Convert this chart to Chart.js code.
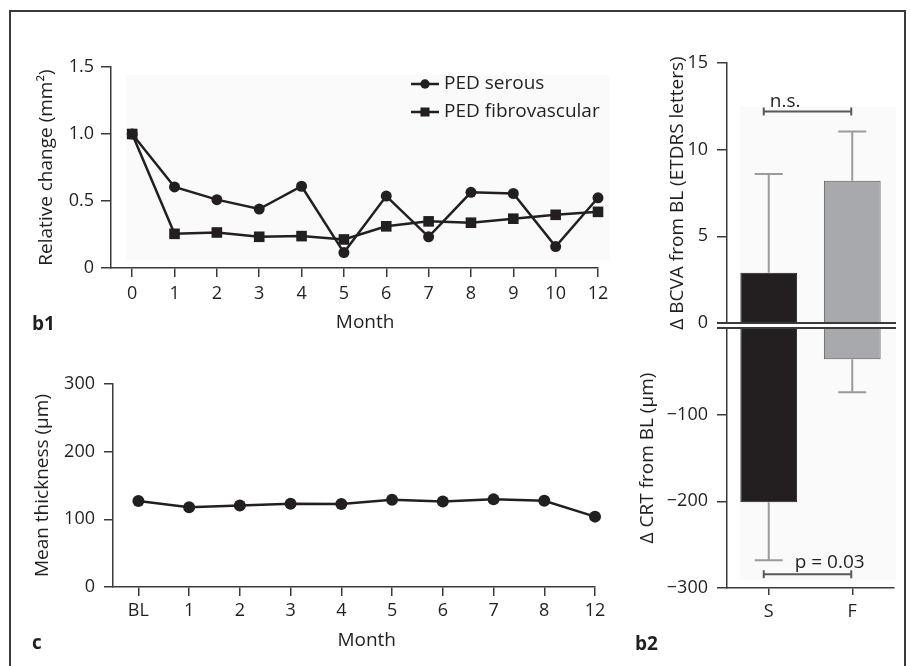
<!DOCTYPE html>
<html lang="en">
<head>
    <meta charset="UTF-8">
    <title>PED area, thickness and BCVA / CRT change</title>
    <script src="https://cdn.jsdelivr.net/npm/chart.js@4"></script>
    <style>
        body { margin: 0; background: #fff; font-family: "Open Sans", sans-serif; color: #231f20; }
        #page { position: relative; width: 911px; height: 666px; overflow: hidden; }
        #frame { position: absolute; left: 9px; top: 10px; width: 893px; height: 700px; border: 2px solid #3a3a3a; }
        canvas { position: absolute; }
        .tag { position: absolute; font-weight: bold; font-size: 19px; line-height: 22px; }
    </style>
</head>
<body>
<div id="page">
    <div id="frame"></div>
    <canvas id="b1" width="583" height="287" style="left:35px;top:47px"></canvas>
    <canvas id="c" width="584" height="291" style="left:31px;top:362px"></canvas>
    <canvas id="b2top" width="234" height="302" style="left:666px;top:43px"></canvas>
    <canvas id="b2bottom" width="264" height="322" style="left:636px;top:306px"></canvas>
    <div class="tag" style="left:32px;top:312px">b1</div>
    <div class="tag" style="left:32px;top:631px">c</div>
    <div class="tag" style="left:635px;top:632px">b2</div>
</div>

<script>
    // b1: relative change of PED area
    const monthsB1 = ['0', '1', '2', '3', '4', '5', '6', '7', '8', '9', '10', '12'];
    const pedSerous = [1.0, 0.605, 0.51, 0.44, 0.61, 0.115, 0.537, 0.233, 0.565, 0.556, 0.16, 0.524];
    const pedFibro = [1.0, 0.255, 0.265, 0.233, 0.238, 0.213, 0.311, 0.348, 0.338, 0.368, 0.397, 0.419];

    // c: mean thickness
    const monthsC = ['BL', '1', '2', '3', '4', '5', '6', '7', '8', '12'];
    const meanThickness = [127, 118, 120.5, 123, 122.5, 129, 126.5, 129.5, 127.5, 104];

    // b2: change from baseline per group
    const groups = ['S', 'F'];
    const bcvaMean = [2.9, 8.2];
    const bcvaUpper = [8.6, 11.05];
    const crtMean = [-201, -36];
    const crtLower = [-268, -74];
    const nsAt = 12.2;
    const pAt = -284;

    const ink = '#231f20';
    const axisCol = '#3a3a3a';
    Chart.defaults.font.family = '"Open Sans", sans-serif';
    Chart.defaults.color = ink;

    // very light panel behind the data, given in data units
    const shade = {
        id: 'shade',
        beforeDraw(chart, args, opts) {
            if (!opts.box) return;
            const { x, y } = chart.scales;
            const [x0, x1, y0, y1] = opts.box;
            const l = x.getPixelForValue(x0), r = x.getPixelForValue(x1);
            const t = y.getPixelForValue(y1), b = y.getPixelForValue(y0);
            chart.ctx.save();
            chart.ctx.fillStyle = '#fafafa';
            chart.ctx.fillRect(l, t, r - l, b - t);
            chart.ctx.restore();
        }
    };

    // "Month" centred under the first..last tick
    const monthTitle = {
        id: 'monthTitle',
        afterDraw(chart, args, opts) {
            if (!opts.text) return;
            const x = chart.scales.x;
            const n = x.ticks.length;
            const cx = (x.getPixelForValue(x.ticks[0].value) + x.getPixelForValue(x.ticks[n - 1].value)) / 2;
            const ctx = chart.ctx;
            ctx.save();
            ctx.fillStyle = ink;
            ctx.font = '19px "Open Sans", sans-serif';
            ctx.textAlign = 'center';
            ctx.textBaseline = 'middle';
            ctx.fillText(opts.text, cx, chart.chartArea.bottom + opts.dy);
            ctx.restore();
        }
    };

    // legend inside the plot (b1)
    const insideLegend = {
        id: 'insideLegend',
        afterDatasetsDraw(chart, args, opts) {
            if (!opts.show) return;
            const ctx = chart.ctx;
            const x0 = chart.chartArea.right - opts.fromRight;
            chart.data.datasets.forEach((ds, i) => {
                const y = chart.chartArea.top + opts.top + i * opts.gap;
                ctx.save();
                ctx.strokeStyle = ds.borderColor;
                ctx.lineWidth = ds.borderWidth;
                ctx.beginPath();
                ctx.moveTo(x0, y);
                ctx.lineTo(x0 + 28, y);
                ctx.stroke();
                ctx.fillStyle = ds.pointBackgroundColor;
                Chart.helpers.drawPoint(ctx, { pointStyle: ds.pointStyle, radius: ds.pointRadius * 0.85, borderWidth: 0, rotation: 0 }, x0 + 14, y);
                ctx.fillStyle = ink;
                ctx.font = '19px "Open Sans", sans-serif';
                ctx.textBaseline = 'middle';
                ctx.fillText(ds.label, x0 + 33, y);
                ctx.restore();
            });
        }
    };

    // whiskers from the bar end to the given value
    const whiskers = {
        id: 'whiskers',
        afterDatasetsDraw(chart, args, opts) {
            if (!opts.ends) return;
            const { x, y } = chart.scales;
            const vals = chart.data.datasets[0].data;
            const ctx = chart.ctx;
            ctx.save();
            ctx.strokeStyle = '#9a9b9d';
            ctx.lineWidth = 2;
            opts.ends.forEach((end, i) => {
                const px = x.getPixelForValue(i);
                const yb = y.getPixelForValue(vals[i]);
                const ye = y.getPixelForValue(end);
                ctx.beginPath();
                ctx.moveTo(px, yb);
                ctx.lineTo(px, ye);
                ctx.moveTo(px - 14, ye);
                ctx.lineTo(px + 14, ye);
                ctx.stroke();
            });
            ctx.restore();
        }
    };

    // significance bracket between the two groups
    const bracket = {
        id: 'bracket',
        afterDatasetsDraw(chart, args, opts) {
            if (opts.at === undefined) return;
            const { x, y } = chart.scales;
            const xa = x.getPixelForValue(0) - 5, xb = x.getPixelForValue(1) - 1;
            const py = y.getPixelForValue(opts.at);
            const ctx = chart.ctx;
            ctx.save();
            ctx.strokeStyle = '#58595b';
            ctx.lineWidth = 2;
            ctx.beginPath();
            ctx.moveTo(xa, py); ctx.lineTo(xb, py);
            ctx.moveTo(xa, py - 4); ctx.lineTo(xa, py + 4);
            ctx.moveTo(xb, py - 4); ctx.lineTo(xb, py + 4);
            ctx.stroke();
            ctx.fillStyle = ink;
            ctx.font = '19px "Open Sans", sans-serif';
            ctx.textBaseline = 'middle';
            ctx.fillText(opts.text, xa + opts.dx, py - opts.dy);
            ctx.restore();
        }
    };

    // double line at zero for the split axis (b2)
    const splitLine = {
        id: 'splitLine',
        afterDraw(chart, args, opts) {
            if (!opts.show) return;
            const { left, right } = chart.chartArea;
            const py = chart.scales.y.getPixelForValue(0);
            const ctx = chart.ctx;
            ctx.save();
            ctx.strokeStyle = axisCol;
            ctx.lineWidth = 2;
            ctx.beginPath();
            ctx.moveTo(left - 10, py);
            ctx.lineTo(right + 2, py);
            ctx.stroke();
            ctx.restore();
        }
    };

    const plugins = [shade, monthTitle, insideLegend, whiskers, bracket, splitLine];

    const grid = (len) => ({ drawOnChartArea: false, drawTicks: true, tickLength: len, color: axisCol, lineWidth: 1.5 });
    const border = { display: true, color: axisCol, width: 1.5 };
    const tickFont = { size: 18 };
    const titleFont = { size: 19 };

    function monthAxis(labels, pad) {
        return {
            type: 'linear',
            min: -0.5,
            max: labels.length - 1,
            afterBuildTicks: (s) => { s.ticks = labels.map((_, i) => ({ value: i })); },
            afterFit: (s) => { s.height = 66; },
            ticks: { font: tickFont, padding: pad, maxRotation: 0, callback: (v) => labels[v] },
            grid: grid(9),
            border: border
        };
    }

    const asPoints = (arr) => arr.map((v, i) => ({ x: i, y: v }));

    new Chart(document.getElementById('b1'), {
        type: 'line',
        data: {
            datasets: [
                { label: 'PED serous', data: asPoints(pedSerous), borderColor: ink, borderWidth: 2.5,
                  pointStyle: 'circle', pointRadius: 5.5, pointBackgroundColor: ink, pointBorderWidth: 0, clip: false },
                { label: 'PED fibrovascular', data: asPoints(pedFibro), borderColor: ink, borderWidth: 2.5,
                  pointStyle: 'rect', pointRadius: 7.5, pointBackgroundColor: ink, pointBorderWidth: 0, clip: false }
            ]
        },
        options: {
            responsive: false,
            animation: false,
            layout: { padding: { top: 20, right: 20, left: 0, bottom: 0 } },
            scales: {
                x: monthAxis(monthsB1, 6),
                y: {
                    min: 0, max: 1.5,
                    afterFit: (s) => { s.width = 76; },
                    ticks: { stepSize: 0.5, font: tickFont, padding: 7, callback: (v) => v === 0 ? '0' : v.toFixed(1) },
                    grid: grid(10),
                    border: border,
                    title: { display: true, text: 'Relative change (mm²)', font: titleFont, padding: 0 }
                }
            },
            plugins: {
                legend: { display: false },
                tooltip: { enabled: false },
                shade: { box: [-0.15, 11.27, 0.06, 1.44] },
                monthTitle: { text: 'Month', dy: 55 },
                insideLegend: { show: true, fromRight: 187, top: 17, gap: 28 }
            }
        },
        plugins: plugins
    });

    new Chart(document.getElementById('c'), {
        type: 'line',
        data: {
            datasets: [
                { label: 'Mean thickness', data: asPoints(meanThickness), borderColor: ink, borderWidth: 2.5,
                  pointStyle: 'circle', pointRadius: 6, pointBackgroundColor: ink, pointBorderWidth: 0, clip: false }
            ]
        },
        options: {
            responsive: false,
            animation: false,
            layout: { padding: { top: 22, right: 20, left: 0, bottom: 0 } },
            scales: {
                x: monthAxis(monthsC, 4),
                y: {
                    min: 0, max: 300,
                    afterFit: (s) => { s.width = 82; },
                    ticks: { stepSize: 100, font: tickFont, padding: 9 },
                    grid: grid(9),
                    border: border,
                    title: { display: true, text: 'Mean thickness (µm)', font: titleFont, padding: 0 }
                }
            },
            plugins: {
                legend: { display: false },
                tooltip: { enabled: false },
                monthTitle: { text: 'Month', dy: 54 }
            }
        },
        plugins: plugins
    });

    const barColors = [ink, '#a7a9ac'];
    const barBorders = [ink, '#58595b'];

    new Chart(document.getElementById('b2top'), {
        type: 'bar',
        data: {
            labels: groups,
            datasets: [{ data: bcvaMean, backgroundColor: barColors, borderColor: barBorders, borderWidth: 1,
                         barPercentage: 0.68, categoryPercentage: 1 }]
        },
        options: {
            responsive: false,
            animation: false,
            layout: { padding: { top: 20, right: 6, left: 0, bottom: 22 } },
            scales: {
                x: { display: false },
                y: {
                    min: 0, max: 15,
                    afterFit: (s) => { s.width = 61; },
                    ticks: { stepSize: 5, font: tickFont, padding: 9 },
                    grid: grid(10),
                    border: border,
                    title: { display: true, text: 'Δ BCVA from BL (ETDRS letters)', font: titleFont, padding: 0 }
                }
            },
            plugins: {
                legend: { display: false },
                tooltip: { enabled: false },
                shade: { box: [-0.344, 1.524, 0, 12.46] },
                whiskers: { ends: bcvaUpper },
                bracket: { at: nsAt, text: 'n.s.', dx: 6, dy: 10 },
                splitLine: { show: true }
            }
        },
        plugins: plugins
    });

    new Chart(document.getElementById('b2bottom'), {
        type: 'bar',
        data: {
            labels: groups,
            datasets: [{ data: crtMean, backgroundColor: barColors, borderColor: barBorders, borderWidth: 1,
                         barPercentage: 0.68, categoryPercentage: 1 }]
        },
        options: {
            responsive: false,
            animation: false,
            layout: { padding: { top: 22, right: 6, left: 0, bottom: 0 } },
            scales: {
                x: {
                    afterFit: (s) => { s.height = 40; },
                    ticks: { font: tickFont, padding: 6 },
                    grid: Object.assign(grid(7), { offset: false }),
                    border: border
                },
                y: {
                    min: -300, max: 0,
                    afterFit: (s) => { s.width = 91; },
                    ticks: { stepSize: 100, font: tickFont, padding: 9,
                             callback: (v) => v === 0 ? '' : '\u2212' + Math.abs(v) },
                    grid: grid(10),
                    border: border,
                    title: { display: true, text: 'Δ CRT from BL (µm)', font: titleFont, padding: 0 }
                }
            },
            plugins: {
                legend: { display: false },
                tooltip: { enabled: false },
                shade: { box: [-0.344, 1.524, -290.8, 0] },
                whiskers: { ends: crtLower },
                bracket: { at: pAt, text: 'p = 0.03', dx: 31, dy: 12 },
                splitLine: { show: true }
            }
        },
        plugins: plugins
    });
</script>
</body>
</html>
